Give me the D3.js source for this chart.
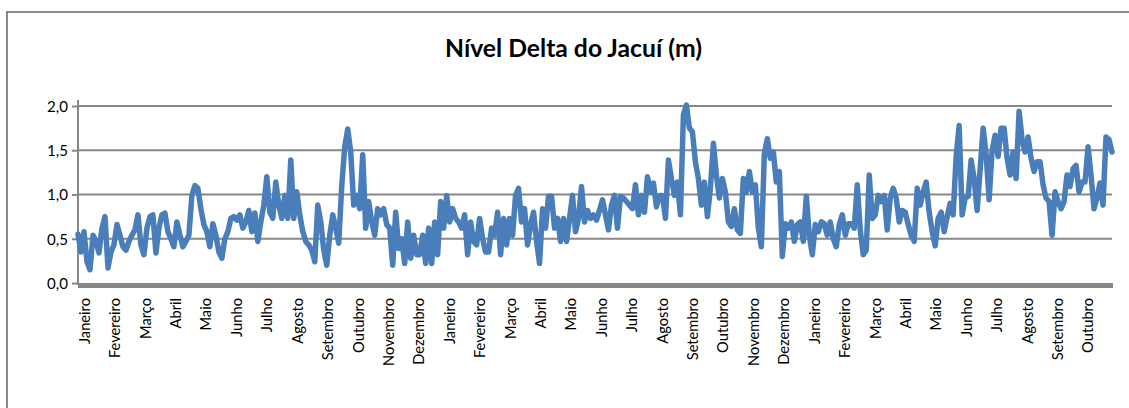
<!DOCTYPE html>
<html><head><meta charset="utf-8">
<script src="https://cdn.jsdelivr.net/npm/d3@7"></script>
<style>html,body{margin:0;padding:0;background:#fff;} svg{display:block}</style>
</head><body>
<svg id="c" width="1129" height="408"></svg>
<script>
const chartTitle = "Nível Delta do Jacuí (m)";
const monthLabels = ["Janeiro","Fevereiro","Março","Abril","Maio","Junho","Julho","Agosto","Setembro","Outubro","Novembro","Dezembro",
  "Janeiro","Fevereiro","Março","Abril","Maio","Junho","Julho","Agosto","Setembro","Outubro","Novembro","Dezembro",
  "Janeiro","Fevereiro","Março","Abril","Maio","Junho","Julho","Agosto","Setembro","Outubro"];
const yTicks = [0, 0.5, 1.0, 1.5, 2.0];
const nivel = [
0.55,0.35,0.58,0.24,0.15,0.54,0.47,0.34,0.62,0.75,
0.17,0.35,0.43,0.66,0.54,0.41,0.37,0.47,0.54,0.60,
0.77,0.43,0.32,0.62,0.75,0.77,0.34,0.62,0.77,0.79,
0.58,0.50,0.41,0.69,0.54,0.41,0.47,0.54,0.99,1.10,
1.07,0.84,0.66,0.58,0.41,0.67,0.54,0.35,0.28,0.50,
0.58,0.73,0.75,0.71,0.77,0.62,0.69,0.82,0.58,0.79,
0.47,0.69,0.88,1.20,0.80,0.73,1.14,0.88,0.73,0.99,
0.73,1.39,0.73,1.03,0.77,0.58,0.47,0.43,0.37,0.24,
0.88,0.69,0.37,0.20,0.54,0.77,0.62,0.45,1.10,1.54,
1.74,1.48,0.88,0.99,0.84,1.45,0.62,0.92,0.69,0.54,
0.84,0.77,0.84,0.66,0.62,0.20,0.80,0.39,0.50,0.22,
0.69,0.28,0.54,0.32,0.32,0.54,0.22,0.62,0.22,0.69,
0.32,0.92,0.62,0.99,0.69,0.84,0.73,0.69,0.62,0.77,
0.32,0.69,0.47,0.43,0.73,0.50,0.35,0.35,0.62,0.54,
0.80,0.32,0.73,0.43,0.73,0.54,0.99,1.07,0.69,0.84,
0.43,0.66,0.80,0.47,0.22,0.84,0.62,0.98,0.98,0.62,
0.73,0.47,0.73,0.47,0.73,0.99,0.58,0.73,1.09,0.69,
0.82,0.73,0.77,0.71,0.82,0.94,0.77,0.60,0.88,0.99,
0.62,0.98,0.96,0.92,0.88,0.84,1.11,0.77,0.99,0.80,
1.20,1.03,1.13,0.86,0.99,0.99,0.73,1.39,1.18,0.99,
1.14,0.77,1.90,2.01,1.75,1.71,1.37,1.18,0.88,1.14,
0.75,1.07,1.58,1.22,0.96,1.18,1.03,0.69,0.64,0.84,
0.60,0.56,1.18,1.03,1.26,1.03,1.11,0.62,0.41,1.46,
1.63,1.41,1.48,1.14,1.26,0.30,0.67,0.62,0.69,0.47,
0.66,0.69,0.47,0.98,0.54,0.32,0.66,0.58,0.69,0.67,
0.54,0.69,0.50,0.41,0.66,0.77,0.54,0.67,0.67,0.62,
1.11,0.60,0.32,0.37,1.22,0.73,0.77,0.99,0.92,0.99,
0.60,0.96,1.07,0.96,0.69,0.82,0.80,0.66,0.54,0.47,
1.07,0.88,1.03,1.14,0.80,0.58,0.42,0.73,0.80,0.58,
0.75,0.90,0.77,1.43,1.78,0.77,0.96,0.98,1.39,1.18,
0.82,1.28,1.75,1.45,0.94,1.50,1.67,1.43,1.75,1.75,
1.41,1.22,1.48,1.18,1.94,1.62,1.48,1.65,1.41,1.26,
1.37,1.37,1.11,0.96,0.92,0.54,1.03,0.92,0.84,0.92,
1.22,1.09,1.29,1.33,1.03,1.14,1.14,1.54,1.22,0.84,
0.96,1.13,0.88,1.65,1.62,1.48
];

const svg = d3.select("#c");
const FONT = "Lato, 'Open Sans', sans-serif";
const GRID = "#878787";
const plot = {left: 78, right: 1112, top: 106, bottom: 283};

function fitSize(text, weight, target) {
  const t = svg.append("text").attr("font-family", FONT).attr("font-weight", weight)
    .attr("font-size", 100).text(text);
  const w = t.node().getComputedTextLength();
  t.remove();
  return 100 * target / w;
}

// chart border (left & top visible)
svg.append("path").attr("d", "M7,420V12H1140")
  .attr("fill", "none").attr("stroke", "#8a8a8a").attr("stroke-width", 2);

const x = d3.scaleLinear().domain([0, nivel.length - 1]).range([plot.left, plot.right]);
const y = d3.scaleLinear().domain([0, 2]).range([plot.bottom, plot.top]);
const xm = d3.scaleBand().domain(d3.range(monthLabels.length)).range([plot.left, plot.right]);

// gridlines
svg.append("g").selectAll("line").data(yTicks.filter(d => d > 0)).join("line")
  .attr("x1", plot.left).attr("x2", plot.right)
  .attr("y1", d => y(d)).attr("y2", d => y(d))
  .attr("stroke", GRID).attr("stroke-width", 2);

// y axis
const yAxis = d3.axisLeft(y).tickValues(yTicks).tickSize(6).tickPadding(8)
  .tickFormat(d => d3.format(".1f")(d).replace(".", ","));
const yg = svg.append("g").attr("transform", `translate(${plot.left},0)`).call(yAxis);
yg.select(".domain").attr("stroke", GRID).attr("stroke-width", 2)
  .attr("d", `M0,${plot.top - 6}V${plot.bottom + 2}`);
yg.selectAll(".tick line").attr("stroke", GRID).attr("stroke-width", 2);
const ySize = fitSize("2,0", 400, 21);
yg.selectAll(".tick text").attr("font-family", FONT).attr("font-size", ySize)
  .attr("fill", "#000").attr("dy", "0.35em").attr("x", -10);

// x axis band (dense category ticks)
svg.append("line").attr("x1", plot.left).attr("x2", plot.right + 1)
  .attr("y1", plot.bottom + 2.5).attr("y2", plot.bottom + 2.5)
  .attr("stroke", GRID).attr("stroke-width", 5);

// month labels
const mSize = fitSize("Novembro", 400, 68);
svg.append("g").selectAll("text").data(monthLabels).join("text")
  .attr("transform", (d, i) => `translate(${xm(i) + xm.bandwidth() * 0.22},${plot.bottom + 15}) rotate(-90)`)
  .attr("text-anchor", "end").attr("dy", "0.35em")
  .attr("font-family", FONT).attr("font-size", mSize).attr("fill", "#000")
  .text(d => d);

// series line
const line = d3.line().x((d, i) => x(i)).y(d => y(d));
svg.append("path").datum(nivel).attr("d", line)
  .attr("fill", "none").attr("stroke", "#4A7EBB").attr("stroke-width", 5.5)
  .attr("stroke-linejoin", "round").attr("stroke-linecap", "round");

// title
const tSize = fitSize(chartTitle, 700, 257);
svg.append("text").attr("x", 573.5).attr("y", 57).attr("text-anchor", "middle")
  .attr("font-family", FONT).attr("font-weight", 700).attr("font-size", tSize)
  .attr("fill", "#000").text(chartTitle);
</script>
</body></html>
